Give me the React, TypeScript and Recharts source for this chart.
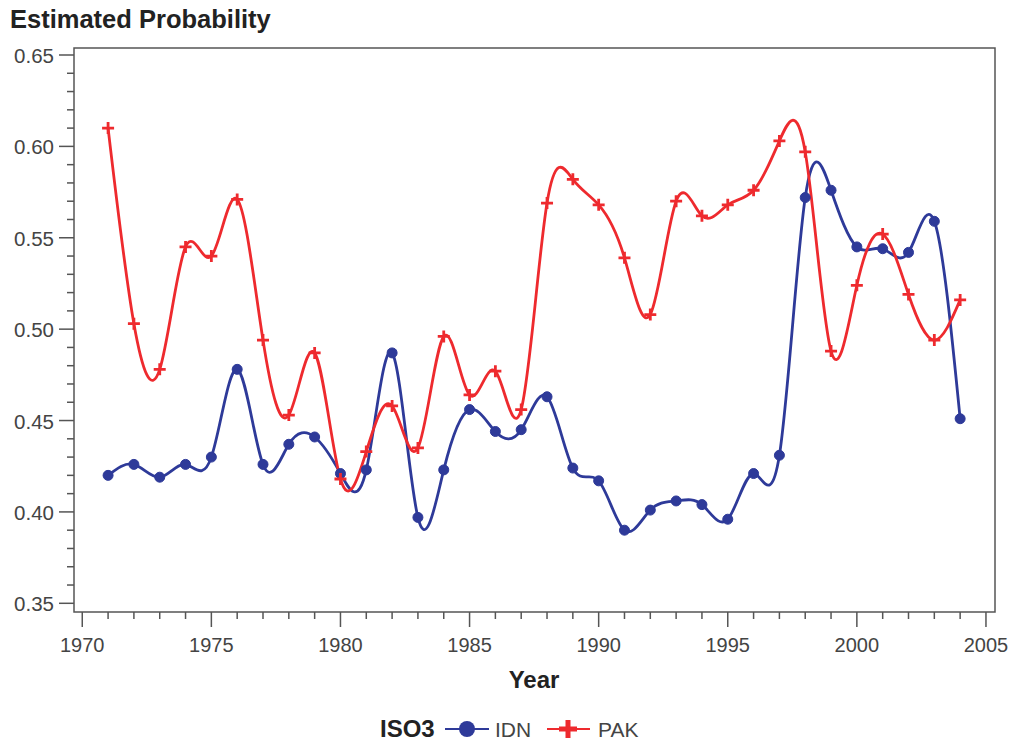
import React from 'react';
import { LineChart, Line, XAxis, YAxis, ReferenceArea } from 'recharts';

const years = [1971,1972,1973,1974,1975,1976,1977,1978,1979,1980,1981,1982,1983,1984,1985,1986,1987,1988,1989,1990,1991,1992,1993,1994,1995,1996,1997,1998,1999,2000,2001,2002,2003,2004];
const idn = [0.420,0.426,0.419,0.426,0.430,0.478,0.426,0.437,0.441,0.421,0.423,0.487,0.397,0.423,0.456,0.444,0.445,0.463,0.424,0.417,0.390,0.401,0.406,0.404,0.396,0.421,0.431,0.572,0.576,0.545,0.544,0.542,0.559,0.451];
const pak = [0.610,0.503,0.478,0.545,0.540,0.571,0.494,0.453,0.487,0.418,0.433,0.458,0.435,0.496,0.464,0.477,0.456,0.569,0.582,0.568,0.539,0.508,0.570,0.562,0.568,0.576,0.603,0.597,0.488,0.524,0.552,0.519,0.494,0.516];
const xTicks = [1970,1971,1972,1973,1974,1975,1976,1977,1978,1979,1980,1981,1982,1983,1984,1985,1986,1987,1988,1989,1990,1991,1992,1993,1994,1995,1996,1997,1998,1999,2000,2001,2002,2003,2004,2005];
const yTicks = [0.35,0.36,0.37,0.38,0.39,0.40,0.41,0.42,0.43,0.44,0.45,0.46,0.47,0.48,0.49,0.50,0.51,0.52,0.53,0.54,0.55,0.56,0.57,0.58,0.59,0.60,0.61,0.62,0.63,0.64,0.65];

const data = years.map((y, i) => ({ year: y, IDN: idn[i], PAK: pak[i] }));

const BLUE = '#2E3A99';
const RED = '#EE2A2E';
const AX = '#555';
const TXT = '#444';
const FONT = '"Liberation Sans", Arial, sans-serif';

const XTick = (props: any) => {
  const { x, y, payload } = props;
  const v = payload.value;
  const major = v % 5 === 0;
  return (
    <g>
      <line x1={x} x2={x} y1={y} y2={y + (major ? 15 : 7)} stroke={AX} strokeWidth={1.5} />
      {major && (
        <text x={x} y={y + 40} textAnchor="middle" fontSize={20} fill={TXT} fontFamily={FONT}>{v}</text>
      )}
    </g>
  );
};

const YTick = (props: any) => {
  const { x, y, payload } = props;
  const v = payload.value;
  const major = Math.round(v * 100) % 5 === 0;
  return (
    <g>
      <line x1={x - (major ? 15 : 7)} x2={x} y1={y} y2={y} stroke={AX} strokeWidth={1.5} />
      {major && (
        <text x={x - 20} y={y + 8} textAnchor="end" fontSize={20.5} fill={TXT} fontFamily={FONT}>{v.toFixed(2)}</text>
      )}
    </g>
  );
};

const PlusDot = (props: any) => {
  const { cx, cy, index } = props;
  if (cx == null || cy == null) return <g key={index} />;
  return (
    <path key={index} d={`M${cx - 6},${cy}H${cx + 6}M${cx},${cy - 6}V${cy + 6}`} stroke={RED} strokeWidth={2.8} fill="none" />
  );
};

export default function App() {
  return (
    <div style={{ position: 'absolute', left: 0, top: 0, width: 1011, height: 746, background: '#fff' }}>
      <LineChart width={1011} height={746} data={data} margin={{ top: 48, right: 16, bottom: 94, left: 0 }}>
        <XAxis dataKey="year" type="number" domain={[1969.68, 2005.35]} ticks={xTicks} interval={0}
          allowDataOverflow tickLine={false} axisLine={false} tickSize={0} tickMargin={0} height={40} tick={<XTick />} />
        <YAxis type="number" domain={[0.34524, 0.65383]} ticks={yTicks} interval={0}
          allowDataOverflow tickLine={false} axisLine={false} tickSize={0} tickMargin={0} width={74} tick={<YTick />} />
        <ReferenceArea x1={1969.68} x2={2005.35} y1={0.34524} y2={0.65383} fill="none" stroke={AX} strokeWidth={1.5} ifOverflow="visible" />
        <Line dataKey="IDN" type="natural" stroke={BLUE} strokeWidth={2.8} isAnimationActive={false}
          dot={{ r: 5, fill: BLUE, stroke: BLUE, strokeWidth: 1 }} />
        <Line dataKey="PAK" type="natural" stroke={RED} strokeWidth={2.8} isAnimationActive={false}
          dot={<PlusDot />} />
      </LineChart>
      <svg width={1011} height={746} style={{ position: 'absolute', left: 0, top: 0, pointerEvents: 'none' }}>
        <text x={10} y={28} fontSize={25.5} fontWeight="bold" fill="#222" fontFamily={FONT}>Estimated Probability</text>
        <text x={534} y={688} fontSize={24} fontWeight="bold" fill="#222" textAnchor="middle" fontFamily={FONT}>Year</text>
        <text x={380} y={737} fontSize={24} fontWeight="bold" fill="#222" fontFamily={FONT}>ISO3</text>
        <line x1={445} x2={489} y1={729} y2={729} stroke={BLUE} strokeWidth={2} />
        <circle cx={467} cy={729} r={8} fill={BLUE} />
        <text x={495} y={737} fontSize={21} fill={TXT} fontFamily={FONT}>IDN</text>
        <line x1={547} x2={590} y1={729} y2={729} stroke={RED} strokeWidth={2} />
        <path d="M559,729H577M568,720V738" stroke={RED} strokeWidth={5} />
        <text x={598} y={737} fontSize={21} fill={TXT} fontFamily={FONT}>PAK</text>
      </svg>
    </div>
  );
}
